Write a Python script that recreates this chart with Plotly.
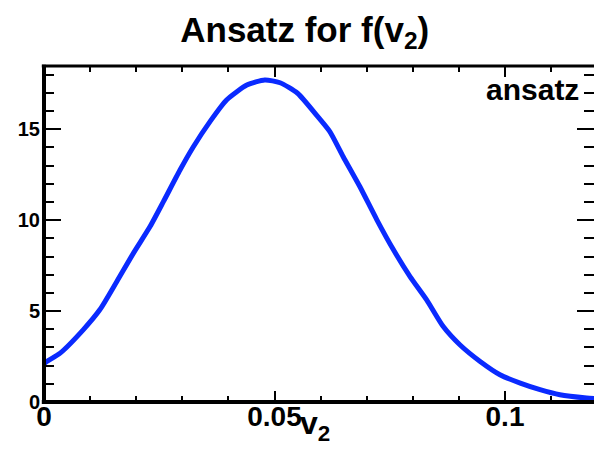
import plotly.graph_objects as go

# data
v2 = [0.0, 0.0006, 0.0035, 0.0085, 0.0121, 0.0158, 0.0194, 0.0230, 0.0259, 0.0295,
      0.0324, 0.0360, 0.0396, 0.0440, 0.0479, 0.0512, 0.0550, 0.0592, 0.0620, 0.0649,
      0.0685, 0.0722, 0.0758, 0.0794, 0.0830, 0.0866, 0.0902, 0.0946, 0.0989, 0.1033,
      0.1076, 0.1119, 0.1177, 0.1200]
f_v2 = [2.10, 2.23, 2.69, 3.97, 5.07, 6.63, 8.19, 9.65, 11.02, 12.76,
        14.04, 15.42, 16.61, 17.43, 17.71, 17.56, 16.98, 15.75, 14.87, 13.49,
        11.85, 10.02, 8.37, 6.90, 5.62, 4.15, 3.15, 2.23, 1.50, 1.04,
        0.68, 0.40, 0.22, 0.18]

x_range = [0, 0.1193]
y_range = [0, 18.48]
x_ticks = [0, 0.05, 0.1]
x_tick_labels = ["0", "0.05", "0.1"]
y_ticks = [0, 5, 10, 15]
y_tick_labels = ["0", "5", "10", "15"]

FONT = "Liberation Sans, Arial, sans-serif"

fig = go.Figure()
fig.add_trace(go.Scatter(x=v2, y=f_v2, mode="lines",
                         line=dict(color="#0a2aff", width=5, shape="spline", smoothing=0.6),
                         showlegend=False, hoverinfo="skip"))

fig.update_layout(
    width=594, height=455,
    margin=dict(l=44, r=0, t=66, b=53),
    paper_bgcolor="white", plot_bgcolor="white",
    title=dict(text="Ansatz for f(v<sub>2</sub>)", xref="container", yref="container",
               x=0.513, y=0.935, xanchor="center", yanchor="middle",
               font=dict(family=FONT, size=35, color="black", weight="bold")),
    xaxis=dict(range=x_range, showgrid=False, zeroline=False,
               showline=False, mirror="ticks",
               ticks="inside", ticklen=11, tickwidth=2, tickcolor="black",
               tickvals=x_ticks, ticktext=x_tick_labels, ticklabelstandoff=-5,
               tickfont=dict(family=FONT, size=28, color="black", weight="bold"),
               minor=dict(ticks="inside", ticklen=6, tickwidth=2, tickcolor="black", dtick=0.01, showgrid=False)),
    yaxis=dict(range=y_range, showgrid=False, zeroline=False,
               showline=False, mirror="ticks",
               ticks="inside", ticklen=17, tickwidth=2, tickcolor="black",
               tickvals=y_ticks, ticktext=y_tick_labels, ticklabelstandoff=3,
               tickfont=dict(family=FONT, size=20, color="black", weight="bold"),
               minor=dict(ticks="inside", ticklen=10, tickwidth=2, tickcolor="black", dtick=1, showgrid=False)),
    shapes=[
        dict(type="line", xref="paper", yref="paper", x0=0, x1=0, y0=-0.006, y1=1.004,
             line=dict(color="black", width=4)),
        dict(type="line", xref="paper", yref="paper", x0=-0.004, x1=1.0, y0=0, y1=0,
             line=dict(color="black", width=4)),
        dict(type="line", xref="paper", yref="paper", x0=-0.004, x1=1.0, y0=1, y1=1,
             line=dict(color="black", width=3)),
    ],
    annotations=[
        dict(text="ansatz", xref="paper", yref="paper", x=0.977, y=0.9315,
             xanchor="right", yanchor="middle", showarrow=False,
             font=dict(family=FONT, size=30, color="black", weight="bold")),
        dict(text="v<sub>2</sub>", xref="paper", yref="paper", x=0.4927, y=-0.0714,
             xanchor="center", yanchor="middle", showarrow=False,
             font=dict(family=FONT, size=32, color="black", weight="bold")),
    ],
)

fig.write_html("out.html")
